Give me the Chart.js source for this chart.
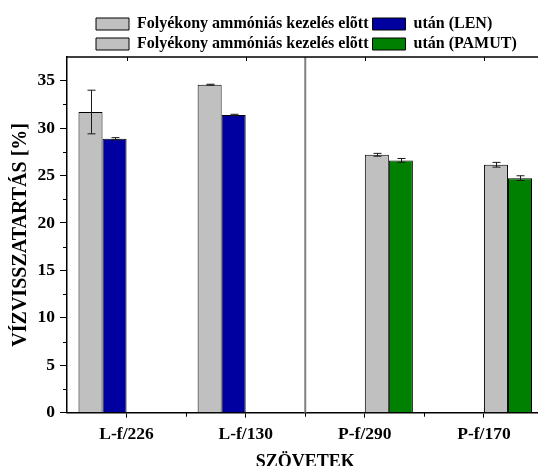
<!DOCTYPE html>
<html>
<head>
<meta charset="utf-8">
<script src="https://cdn.jsdelivr.net/npm/chart.js@4"></script>
<style>
  html, body { margin: 0; padding: 0; overflow: hidden; background: #fff; }
  canvas { display: block; }
</style>
</head>
<body>
<canvas id="myChart" width="548" height="476"></canvas>
<script>
// data
const categories = ['L-f/226', 'L-f/130', 'P-f/290', 'P-f/170'];
const beforeLen = [31.7, 34.58, null, null];
const beforeLenErr = [2.3, 0.05, null, null];
const afterLen = [28.88, 31.38, null, null];
const afterLenErr = [0.12, 0.08, null, null];
const beforePamut = [null, null, 27.19, 26.14];
const beforePamutErr = [null, null, 0.15, 0.25];
const afterPamut = [null, null, 26.6, 24.73];
const afterPamutErr = [null, null, 0.2, 0.25];
const yTicks = [0, 5, 10, 15, 20, 25, 30, 35];

const FONT = "'Liberation Serif', 'Times New Roman', serif";

// error bars, minor ticks, top frame and the separator line
const extras = {
  id: 'extras',
  afterLayout(chart) {
    // Origin-style legend: both rows start at the same x
    chart.legend.left = 92;
  },
  afterDatasetsDraw(chart) {
    const {ctx, chartArea: a, scales: {x, y}} = chart;
    ctx.save();

    // separator between LEN and PAMUT
    const sep = (x.getPixelForValue(1) + x.getPixelForValue(2)) / 2;
    ctx.strokeStyle = '#808080';
    ctx.lineWidth = 2;
    ctx.beginPath();
    ctx.moveTo(sep, a.top);
    ctx.lineTo(sep, a.bottom);
    ctx.stroke();

    // error bars
    ctx.strokeStyle = '#1a1a1a';
    ctx.lineWidth = 1;
    chart.data.datasets.forEach((ds, i) => {
      const meta = chart.getDatasetMeta(i);
      meta.data.forEach((bar, j) => {
        const v = ds.data[j], e = ds.errors[j];
        if (v == null || e == null) return;
        const yt = y.getPixelForValue(v + e);
        const yb = y.getPixelForValue(v - e);
        const cx = Math.round(bar.x) + 0.5;
        ctx.beginPath();
        ctx.moveTo(cx, yt); ctx.lineTo(cx, yb);
        ctx.moveTo(cx - 4, yt); ctx.lineTo(cx + 4, yt);
        ctx.moveTo(cx - 4, yb); ctx.lineTo(cx + 4, yb);
        ctx.stroke();
      });
    });

    // top frame line with small inner ticks
    ctx.strokeStyle = '#000';
    ctx.lineWidth = 1.5;
    ctx.beginPath();
    ctx.moveTo(a.left, a.top);
    ctx.lineTo(a.right, a.top);
    ctx.stroke();
    ctx.lineWidth = 1;
    ctx.beginPath();
    categories.forEach((c, i) => {
      const px = Math.round(x.getPixelForValue(i)) + 0.5;
      ctx.moveTo(px, a.top); ctx.lineTo(px, a.top + 4);
    });
    ctx.stroke();

    // minor ticks
    ctx.lineWidth = 1;
    ctx.beginPath();
    for (let v = 2.5; v < y.max; v += 5) {
      const py = Math.round(y.getPixelForValue(v)) + 0.5;
      ctx.moveTo(a.left - 4, py); ctx.lineTo(a.left, py);
    }
    for (let i = 0; i < categories.length - 1; i++) {
      const px = Math.round((x.getPixelForValue(i) + x.getPixelForValue(i + 1)) / 2) + 0.5;
      ctx.moveTo(px, a.bottom); ctx.lineTo(px, a.bottom + 4);
    }
    ctx.stroke();
    ctx.restore();
  }
};

const ctx = document.getElementById('myChart').getContext('2d');

new Chart(ctx, {
  type: 'bar',
  data: {
    labels: categories,
    datasets: [
      { label: 'Folyékony ammóniás kezelés elõtt', data: beforeLen, errors: beforeLenErr,
        backgroundColor: '#C0C0C0', borderColor: '#000', borderWidth: 1 },
      { label: 'után (LEN)', data: afterLen, errors: afterLenErr,
        backgroundColor: '#0000A0', borderColor: '#000', borderWidth: 1 },
      { label: 'Folyékony ammóniás kezelés elõtt', data: beforePamut, errors: beforePamutErr,
        backgroundColor: '#C0C0C0', borderColor: '#000', borderWidth: 1 },
      { label: 'után (PAMUT)', data: afterPamut, errors: afterPamutErr,
        backgroundColor: '#008000', borderColor: '#000', borderWidth: 1 }
    ]
  },
  options: {
    responsive: false,
    animation: false,
    devicePixelRatio: 1,
    barPercentage: 1,
    categoryPercentage: 0.807,
    layout: { padding: { top: 12, right: 4.5, bottom: 0, left: 0 } },
    plugins: {
      legend: {
        position: 'top',
        align: 'start',
        maxHeight: 45,
        labels: {
          boxWidth: 33,
          boxHeight: 12,
          padding: 4,
          color: '#000',
          font: { family: FONT, size: 16, weight: 'bold' }
        }
      },
      tooltip: { enabled: false }
    },
    scales: {
      x: {
        offset: true,
        grid: { offset: false, drawOnChartArea: false, tickLength: 5, color: '#000', lineWidth: 1 },
        border: { display: true, color: '#000', width: 1.5 },
        ticks: { color: '#000', padding: 6, font: { family: FONT, size: 17.5, weight: 'bold' } },
        title: {
          display: true, text: 'SZÖVETEK', color: '#000',
          padding: { top: 0, bottom: 3 },
          font: { family: FONT, size: 18, weight: 'bold' }
        },
        afterFit(scale) { scale.height = 476 - 412.7; }
      },
      y: {
        min: 0,
        max: 37.5,
        afterBuildTicks(scale) { scale.ticks = yTicks.map(v => ({ value: v })); },
        grid: { drawOnChartArea: false, tickLength: 7, color: '#000', lineWidth: 1 },
        border: { display: true, color: '#000', width: 1.5 },
        ticks: { color: '#000', padding: 5, font: { family: FONT, size: 17.5, weight: 'bold' } },
        title: {
          display: true, text: 'VÍZVISSZATARTÁS [%]', color: '#000',
          padding: { top: 9, bottom: 0 },
          font: { family: FONT, size: 20, weight: 'bold' }
        },
        afterFit(scale) { scale.width = 67; }
      }
    }
  },
  plugins: [extras]
});
</script>
</body>
</html>
